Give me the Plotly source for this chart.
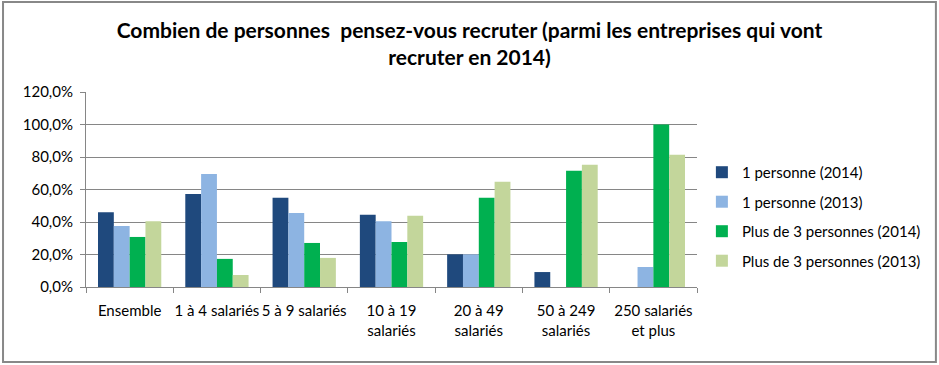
import plotly.graph_objects as go

categories = ["Ensemble", "1 à 4 salariés", "5 à 9 salariés", "10 à 19<br>salariés",
              "20 à 49<br>salariés", "50 à 249<br>salariés", "250 salariés<br>et plus"]
series_names = ["1 personne (2014)", "1 personne (2013)",
                "Plus de 3 personnes (2014)", "Plus de 3 personnes (2013)"]
un_2014 = [0.460, 0.573, 0.549, 0.444, 0.201, 0.092, None]
un_2013 = [0.376, 0.696, 0.456, 0.405, 0.201, None, 0.123]
plus3_2014 = [0.308, 0.173, 0.271, 0.277, 0.549, 0.715, 1.000]
plus3_2013 = [0.405, 0.074, 0.179, 0.438, 0.647, 0.752, 0.814]
y_ticks = [0, 0.2, 0.4, 0.6, 0.8, 1.0, 1.2]

colors = ["#1F497D", "#8DB4E2", "#00B050", "#C3D69B"]
values = [un_2014, un_2013, plus3_2014, plus3_2013]

fig = go.Figure()
for i, (name, vals) in enumerate(zip(series_names, values)):
    fig.add_trace(go.Bar(x=categories, y=vals, name=name, marker_color=colors[i],
                         marker_line_width=0, legendgroup=str(i)))

font = "Lato, 'Open Sans', sans-serif"
fig.update_layout(
    width=939, height=365,
    margin=dict(l=86, r=242, t=92, b=78, autoexpand=False),
    paper_bgcolor="white", plot_bgcolor="white",
    separators=", ",
    barmode="group", bargap=0.275, bargroupgap=0,
    font=dict(family=font, size=13, color="#000000"),
    title=dict(text="Combien de personnes  pensez-vous recruter (parmi les entreprises qui vont<br>recruter en 2014)",
               x=0.5, xref="container", xanchor="center", y=0.896, yanchor="top",
               font=dict(family=font, size=21, color="#000000", weight="bold")),
    legend=dict(x=1.008, y=0.672, xanchor="left", yanchor="top",
                font=dict(size=15), tracegroupgap=7, traceorder="grouped",
                bgcolor="rgba(0,0,0,0)"),
    showlegend=True,
    shapes=[dict(type="rect", xref="paper", yref="paper",
                 x0=-0.1358, x1=1.391, y0=-0.3846, y1=1.4615,
                 line=dict(color="#888888", width=2), layer="below")],
)
fig.update_xaxes(type="category", showline=True, linecolor="#868686", linewidth=1,
                 ticks="outside", tickson="boundaries", ticklen=5, tickcolor="#868686",
                 showgrid=False, tickfont=dict(size=15), tickangle=0, automargin=False,
                 ticklabelstandoff=10)
fig.update_yaxes(range=[0, 1.2], tickvals=y_ticks, tickformat=".1%",
                 showline=True, linecolor="#868686", linewidth=1,
                 ticks="outside", ticklen=5, tickcolor="#868686",
                 showgrid=True, gridcolor="#868686", gridwidth=1,
                 zeroline=False, tickfont=dict(size=15), automargin=False,
                 ticklabelstandoff=4)

fig.write_html("out.html", config={"displayModeBar": False},
               post_script="document.body.style.margin='0';")
